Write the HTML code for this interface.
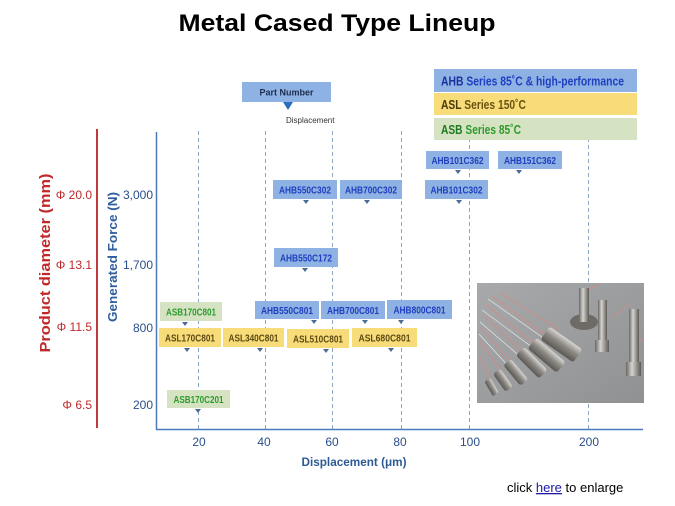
<!DOCTYPE html>
<html><head><meta charset="utf-8"><style>
html,body{margin:0;padding:0;background:#fff;}
svg{display:block;}
</style></head><body>
<svg width="675" height="506" viewBox="0 0 675 506" xmlns="http://www.w3.org/2000/svg" font-family="'Liberation Sans', Arial, sans-serif">
<defs>
<linearGradient id="bg" x1="0" y1="0" x2="1" y2="1"><stop offset="0" stop-color="#a7a9ab"/><stop offset="1" stop-color="#8f9193"/></linearGradient>
<linearGradient id="met" x1="0" y1="0" x2="0" y2="1"><stop offset="0" stop-color="#d8d6d2"/><stop offset="0.45" stop-color="#8e8b86"/><stop offset="1" stop-color="#5b5853"/></linearGradient>
<linearGradient id="metv" x1="0" y1="0" x2="1" y2="0"><stop offset="0" stop-color="#6a6763"/><stop offset="0.4" stop-color="#d6d4d0"/><stop offset="1" stop-color="#5d5a56"/></linearGradient>
</defs>

<!-- Title -->
<text x="337" y="31" font-size="24" font-weight="bold" text-anchor="middle" fill="#000" textLength="317" lengthAdjust="spacingAndGlyphs">Metal Cased Type Lineup</text>

<!-- dashed gridlines -->
<g stroke="#8ea6c6" stroke-width="1" stroke-dasharray="4,3">
<line x1="198.5" y1="131" x2="198.5" y2="429"/>
<line x1="265.5" y1="131" x2="265.5" y2="429"/>
<line x1="332.5" y1="131" x2="332.5" y2="429"/>
<line x1="401.5" y1="131" x2="401.5" y2="429"/>
<line x1="469.5" y1="131" x2="469.5" y2="429"/>
<line x1="588.5" y1="131" x2="588.5" y2="429"/>
</g>

<!-- axes -->
<line x1="97" y1="129" x2="97" y2="428" stroke="#c0393b" stroke-width="2"/>
<line x1="156.5" y1="132" x2="156.5" y2="429.5" stroke="#4a7ab8" stroke-width="1.5"/>
<line x1="156" y1="429.5" x2="643" y2="429.5" stroke="#4a7ab8" stroke-width="1.5"/>

<!-- axis titles -->
<text transform="translate(50,263) rotate(-90)" font-size="15" font-weight="bold" fill="#c0282a" text-anchor="middle" textLength="179" lengthAdjust="spacingAndGlyphs">Product diameter (mm)</text>
<text transform="translate(117,257) rotate(-90)" font-size="13" font-weight="bold" fill="#2e5e9c" text-anchor="middle" textLength="130" lengthAdjust="spacingAndGlyphs">Generated Force (N)</text>

<!-- phi labels -->
<g font-size="12" fill="#c0282a" text-anchor="end">
<text x="92" y="199">Φ 20.0</text>
<text x="92" y="269">Φ 13.1</text>
<text x="92" y="331">Φ 11.5</text>
<text x="92" y="409">Φ 6.5</text>
</g>
<!-- force labels -->
<g font-size="12" fill="#2a4f8a" text-anchor="end">
<text x="153" y="199">3,000</text>
<text x="153" y="269">1,700</text>
<text x="153" y="332">800</text>
<text x="153" y="409">200</text>
</g>

<!-- x tick labels -->
<g font-size="12" fill="#2a4f8a" text-anchor="middle">
<text x="199" y="446">20</text>
<text x="264" y="446">40</text>
<text x="332" y="446">60</text>
<text x="400" y="446">80</text>
<text x="470" y="446">100</text>
<text x="589" y="446">200</text>
</g>
<text x="354" y="466" font-size="12" font-weight="bold" fill="#2e5a94" text-anchor="middle" textLength="105" lengthAdjust="spacingAndGlyphs">Displacement (μm)</text>

<!-- Part number key -->
<rect x="242" y="82" width="89" height="20" fill="#8fb2e4"/>
<text x="286.5" y="95.5" font-size="9" font-weight="bold" fill="#1d2d4d" text-anchor="middle">Part Number</text>
<polygon points="283,102 293,102 288,110" fill="#2a6cc0"/>
<text x="286" y="123" font-size="8" fill="#333">Displacement</text>

<!-- Legend -->
<rect x="434" y="69" width="203" height="23" fill="#8fb2e4"/>
<rect x="434" y="93" width="203" height="22" fill="#f8dc7a"/>
<rect x="434" y="118" width="203" height="22" fill="#d6e3c3"/>
<text x="441" y="85.5" font-size="13" font-weight="bold" fill="#1f3fbf" textLength="183" lengthAdjust="spacingAndGlyphs"><tspan fill="#1a2f9a">AHB</tspan> Series 85˚C &amp; high-performance</text>
<text x="441" y="109" font-size="13" font-weight="bold" fill="#6a5410" textLength="85" lengthAdjust="spacingAndGlyphs"><tspan fill="#4a3a08">ASL</tspan> Series 150˚C</text>
<text x="441" y="134" font-size="13" font-weight="bold" fill="#2e9a2e" textLength="80" lengthAdjust="spacingAndGlyphs"><tspan fill="#1f7a1f">ASB</tspan> Series 85˚C</text>

<!-- labels -->
<g font-size="10" font-weight="bold" text-anchor="middle">
<g fill="#8fb2e4">
<rect x="273" y="180" width="64" height="19"/>
<rect x="340" y="180" width="62" height="19"/>
<rect x="425" y="180" width="63" height="19"/>
<rect x="426" y="151" width="63" height="18"/>
<rect x="498" y="151" width="64" height="18"/>
<rect x="274" y="248" width="64" height="19"/>
<rect x="255" y="301" width="64" height="18"/>
<rect x="321" y="301" width="64" height="18"/>
<rect x="387" y="300" width="65" height="19"/>
</g>
<g fill="#f8dc7a">
<rect x="159" y="328" width="62" height="19"/>
<rect x="223" y="328" width="61" height="19"/>
<rect x="287" y="329" width="62" height="19"/>
<rect x="352" y="328" width="65" height="19"/>
</g>
<g fill="#d6e3c3">
<rect x="160" y="302" width="62" height="19"/>
<rect x="167" y="390" width="63" height="18"/>
</g>
<g fill="#1f3fbf">
<text x="305" y="193.5" textLength="52" lengthAdjust="spacingAndGlyphs">AHB550C302</text>
<text x="371" y="193.5" textLength="52" lengthAdjust="spacingAndGlyphs">AHB700C302</text>
<text x="456.5" y="193.5" textLength="52" lengthAdjust="spacingAndGlyphs">AHB101C302</text>
<text x="457.5" y="164" textLength="52" lengthAdjust="spacingAndGlyphs">AHB101C362</text>
<text x="530" y="164" textLength="52" lengthAdjust="spacingAndGlyphs">AHB151C362</text>
<text x="306" y="261.5" textLength="52" lengthAdjust="spacingAndGlyphs">AHB550C172</text>
<text x="287" y="314" textLength="52" lengthAdjust="spacingAndGlyphs">AHB550C801</text>
<text x="353" y="314" textLength="52" lengthAdjust="spacingAndGlyphs">AHB700C801</text>
<text x="419.5" y="313.5" textLength="52" lengthAdjust="spacingAndGlyphs">AHB800C801</text>
</g>
<g fill="#5c4a12">
<text x="190" y="341.5" textLength="50" lengthAdjust="spacingAndGlyphs">ASL170C801</text>
<text x="253.5" y="341.5" textLength="50" lengthAdjust="spacingAndGlyphs">ASL340C801</text>
<text x="318" y="342.5" textLength="50" lengthAdjust="spacingAndGlyphs">ASL510C801</text>
<text x="384.5" y="341.5" textLength="52" lengthAdjust="spacingAndGlyphs">ASL680C801</text>
</g>
<g fill="#2c9c2c">
<text x="191" y="315.5" textLength="50" lengthAdjust="spacingAndGlyphs">ASB170C801</text>
<text x="198.5" y="403" textLength="50" lengthAdjust="spacingAndGlyphs">ASB170C201</text>
</g>
</g>

<!-- small triangles -->
<g fill="#4d6b96">
<polygon points="303,200 309,200 306,204"/>
<polygon points="364,200 370,200 367,204"/>
<polygon points="456,200 462,200 459,204"/>
<polygon points="455,170 461,170 458,174"/>
<polygon points="516,170 522,170 519,174"/>
<polygon points="302,268 308,268 305,272"/>
<polygon points="311,320 317,320 314,324"/>
<polygon points="362,320 368,320 365,324"/>
<polygon points="398,320 404,320 401,324"/>
<polygon points="182,322 188,322 185,326"/>
<polygon points="184,348 190,348 187,352"/>
<polygon points="257,348 263,348 260,352"/>
<polygon points="323,349 329,349 326,353"/>
<polygon points="388,348 394,348 391,352"/>
<polygon points="195,409 201,409 198,413"/>
</g>

<!-- Photo -->
<g>
<rect x="477" y="283" width="167" height="120" fill="url(#bg)"/>
<g stroke="#d88a84" stroke-width="0.8" fill="none">
<path d="M552 340 L492 296"/><path d="M540 348 L486 305"/><path d="M527 356 L483 315"/><path d="M514 366 L481 327"/><path d="M503 374 L479 340"/><path d="M492 382 L479 355"/>
<path d="M560 330 L500 293"/><path d="M588 290 L600 284"/><path d="M612 318 L630 303"/><path d="M633 345 L643 340"/>
</g>
<g stroke="#e8e8e6" stroke-width="0.7" fill="none">
<path d="M549 342 L488 299"/><path d="M536 350 L482 310"/><path d="M523 359 L480 322"/><path d="M510 368 L479 334"/>
</g>
<g fill="url(#met)">
<rect x="0" y="-8" width="40" height="16" rx="3" transform="translate(545,333) rotate(35)"/>
<rect x="0" y="-7" width="38" height="14" rx="3" transform="translate(532,343) rotate(40)"/>
<rect x="0" y="-6" width="33" height="12" rx="3" transform="translate(520,351) rotate(45)"/>
<rect x="0" y="-5" width="27" height="10" rx="3" transform="translate(507,362) rotate(50)"/>
<rect x="0" y="-4" width="22" height="9" rx="3" transform="translate(497,371) rotate(55)"/>
<rect x="0" y="-4" width="17" height="7" rx="2" transform="translate(487,380) rotate(60)"/>
</g>
<ellipse cx="584" cy="322" rx="14" ry="8" fill="#6e6b66"/>
<rect x="579" y="288" width="10" height="34" fill="url(#metv)"/>
<rect x="598" y="300" width="9" height="42" fill="url(#metv)"/>
<rect x="595" y="340" width="14" height="12" fill="url(#metv)"/>
<rect x="629" y="309" width="10" height="55" fill="url(#metv)"/>
<rect x="626" y="362" width="15" height="14" fill="url(#metv)"/>
</g>

<!-- footer -->
<text x="507" y="492" font-size="13" fill="#000">click <tspan fill="#1a1aa6" text-decoration="underline">here</tspan> to enlarge</text>
</svg>
</body></html>
